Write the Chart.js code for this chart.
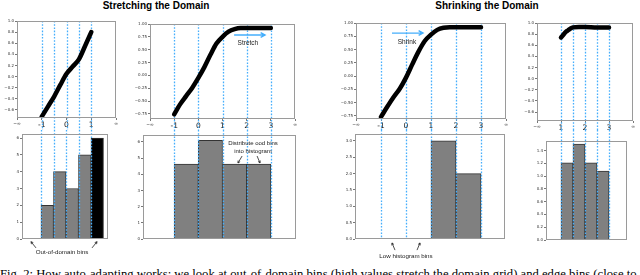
<!DOCTYPE html>
<html>
<head>
<meta charset="utf-8">
<script src="https://cdn.jsdelivr.net/npm/chart.js@4.4.0/dist/chart.umd.min.js"></script>
<style>
body { margin: 0; width: 640px; height: 275px; overflow: hidden; background: #fff; position: relative; }
canvas { position: absolute; }
.title { position: absolute; top: 1px; font: bold 10px "Liberation Sans", Arial, sans-serif; line-height: 10px; white-space: nowrap; transform: translateX(-50%); color: #000; }
.caption { position: absolute; left: 0; top: 268px; font-family: "Liberation Serif", "Times New Roman", serif; font-size: 11.3px; line-height: 12px; white-space: nowrap; color: #000; }
</style>
</head>
<body>
<div class="title" style="left:156px">Stretching the Domain</div>
<div class="title" style="left:487px">Shrinking the Domain</div>
<div class="caption" id="caption">Fig. 2: How auto-adapting works: we look at out-of-domain bins (high values stretch the domain grid) and edge bins (close to</div>
<script>
// --- curves (top row) ---
const origX = [-1, -0.75, -0.5, -0.25, 0, 0.25, 0.5, 0.75, 1];
const origY = [-0.72, -0.54, -0.36, -0.15, 0.05, 0.18, 0.31, 0.55, 0.80];
const stretchX = [-1, -0.75, -0.5, -0.25, 0, 0.25, 0.5, 0.75, 1, 1.25, 1.5, 1.75, 2, 2.5, 3];
const stretchY = [-0.76, -0.56, -0.40, -0.24, -0.05, 0.16, 0.40, 0.62, 0.75, 0.85, 0.90, 0.92, 0.92, 0.92, 0.92];
const wideX = [-1, -0.75, -0.5, -0.25, 0, 0.25, 0.5, 0.75, 1, 1.25, 1.5, 1.75, 2, 2.5, 3];
const wideY = [-0.77, -0.58, -0.40, -0.24, -0.03, 0.22, 0.46, 0.66, 0.78, 0.87, 0.91, 0.92, 0.92, 0.92, 0.92];
const shrinkX = [1, 1.1, 1.2, 1.3, 1.4, 1.5, 1.75, 2, 2.5, 3];
const shrinkY = [0.74, 0.79, 0.84, 0.87, 0.90, 0.92, 0.93, 0.93, 0.92, 0.92];

// --- histograms (bottom row) ---
const origBins = [-1.25, -0.75, -0.25, 0.25, 0.75, 1.25];
const origCounts = [0, 2, 4, 3, 5, 6];
const origOutside = [false, false, false, false, false, true];
const stretchBins = [-1.5, -0.5, 0.5, 1.5, 2.5, 3.5];
const stretchCounts = [0, 4.63, 6.1, 4.63, 4.63, 0];
const wideBins = [-1.5, -0.5, 0.5, 1.5, 2.5, 3.5];
const wideCounts = [0, 0, 0, 3.0, 2.0, 0];
const shrinkBins = [0.75, 1.25, 1.75, 2.25, 2.75, 3.25];
const shrinkCounts = [0, 1.21, 1.50, 1.21, 1.08, 0];

// --- domain grid lines ---
const origGrid = [-1, -0.5, 0, 0.5, 1];
const stretchGrid = [-1, 0, 1, 2, 3];
const wideGrid = [-1, 0, 1, 2, 3];
const shrinkGrid = [1, 1.5, 2, 2.5, 3];

// --- tick labels ---
const origXTicks = [-2, -1, 0, 1, 2];
const origXLabels = ['\u2212\u221e', '-1', '0', '1', '\u221e'];
const wideXTicks = [-2, -1, 0, 1, 2, 3, 4];
const wideXLabels = ['\u2212\u221e', '-1', '0', '1', '2', '3', '\u221e'];
const shrinkXTicks = [0, 1, 2, 3, 4];
const shrinkXLabels = ['\u2212\u221e', '1', '2', '3', '\u221e'];
const tenthTicks = [-0.6, -0.4, -0.2, 0, 0.2, 0.4, 0.6, 0.8, 1.0];
const quarterTicks = [-0.75, -0.5, -0.25, 0, 0.25, 0.5, 0.75, 1.0];
const countTicks = [0, 1, 2, 3, 4, 5, 6];
const halfTicks = [0, 0.5, 1, 1.5, 2, 2.5, 3];
const smallTicks = [0, 0.2, 0.4, 0.6, 0.8, 1.0, 1.2, 1.4];

const BLUE = '#45aefc';
const TICK_FONT = '"DejaVu Sans", sans-serif';

function fmt(d) {
  return v => (v < -1e-9 ? '\u2212' : '') + Math.abs(v).toFixed(d);
}

function place(left, top, width, height) {
  const c = document.createElement('canvas');
  c.width = width; c.height = height;
  c.style.left = left + 'px'; c.style.top = top + 'px';
  document.body.appendChild(c);
  return c;
}

const frame = {
  id: 'frame',
  afterDraw(chart) {
    const { ctx, chartArea: a } = chart;
    ctx.save();
    ctx.strokeStyle = '#9a9a9a';
    ctx.lineWidth = 1;
    ctx.strokeRect(Math.round(a.left) + 0.5, Math.round(a.top) + 0.5,
      Math.round(a.right - a.left) - 1, Math.round(a.bottom - a.top) - 1);
    ctx.restore();
  }
};

function dashes(values, down) {
  const draw = chart => {
    const { ctx, chartArea: a, scales: { x } } = chart;
    ctx.save();
    ctx.strokeStyle = BLUE;
    ctx.lineWidth = 1.3;
    ctx.setLineDash([1.6, 1.6]);
    values.forEach(v => {
      const px = Math.round(x.getPixelForValue(v)) + 0.5;
      ctx.beginPath();
      ctx.moveTo(px, down ? a.top : 0);
      ctx.lineTo(px, down ? chart.height : a.bottom);
      ctx.stroke();
    });
    ctx.restore();
  };
  return down ? { id: 'dashes', beforeDatasetsDraw: draw } : { id: 'dashes', afterDatasetsDraw: draw };
}

function arrow(ctx, x1, y1, x2, y2, color, w, head) {
  const ang = Math.atan2(y2 - y1, x2 - x1);
  ctx.strokeStyle = color;
  ctx.lineWidth = w;
  ctx.beginPath();
  ctx.moveTo(x1, y1); ctx.lineTo(x2, y2);
  ctx.moveTo(x2 - head * Math.cos(ang - 0.5), y2 - head * Math.sin(ang - 0.5));
  ctx.lineTo(x2, y2);
  ctx.lineTo(x2 - head * Math.cos(ang + 0.5), y2 - head * Math.sin(ang + 0.5));
  ctx.stroke();
}

function notes(items) {
  return {
    id: 'notes',
    afterDraw(chart) {
      const { ctx, scales: { x, y } } = chart;
      ctx.save();
      items.forEach(it => {
        if (it.text) {
          ctx.fillStyle = '#222';
          ctx.font = (it.size || 6) + 'px "Liberation Sans", Arial, sans-serif';
          ctx.textAlign = 'center';
          ctx.textBaseline = 'middle';
          ctx.fillText(it.text, x.getPixelForValue(it.x), y.getPixelForValue(it.y));
        } else {
          arrow(ctx, x.getPixelForValue(it.x1), y.getPixelForValue(it.y1),
            x.getPixelForValue(it.x2), y.getPixelForValue(it.y2),
            it.color || '#222', it.w || 0.8, it.head || 2.5);
        }
      });
      ctx.restore();
    }
  };
}

function fixTicks(list) {
  return scale => { scale.ticks = list.map(v => ({ value: v })); };
}

const TOP_BOTTOM = 130;

function curveChart(o) {
  const a = o.area, yW = 16, padR = 6, ct = 12;
  const canvas = place(a.l - yW, ct, a.r + padR - (a.l - yW), TOP_BOTTOM - ct);
  new Chart(canvas, {
    type: 'line',
    data: {
      datasets: [{
        data: o.xs.map((x, i) => ({ x, y: o.ys[i] })),
        borderColor: '#000',
        borderWidth: 4.5,
        pointRadius: 0,
        cubicInterpolationMode: 'monotone',
        borderCapStyle: 'round'
      }]
    },
    options: {
      responsive: false,
      animation: false,
      events: [],
      layout: { autoPadding: false, padding: { left: 0, top: a.t - ct, right: padR, bottom: 0 } },
      plugins: { legend: { display: false }, tooltip: { enabled: false } },
      scales: {
        x: {
          type: 'linear', min: o.xMin, max: o.xMax,
          afterBuildTicks: fixTicks(o.xTicks),
          afterFit: s => { s.height = TOP_BOTTOM - a.b; },
          border: { display: false },
          grid: { drawOnChartArea: false, tickLength: 2, color: '#777' },
          ticks: {
            autoSkip: false, maxRotation: 0, padding: 1, color: '#111',
            callback: (v, i) => o.xLabels[i],
            font: c => ({ family: TICK_FONT, size: (c.index === 0 || c.index === o.xTicks.length - 1) ? 4.5 : 7.5 })
          }
        },
        y: {
          min: o.yMin, max: o.yMax,
          afterBuildTicks: fixTicks(o.yTicks),
          afterFit: s => { s.width = yW; },
          border: { display: false },
          grid: { drawOnChartArea: false, tickLength: 2, color: '#777' },
          ticks: { autoSkip: false, padding: 1, color: '#333', callback: o.yFmt, font: { family: TICK_FONT, size: 4 } }
        }
      }
    },
    plugins: [dashes(o.grid, true), frame, notes(o.notes || [])]
  });
}

function histChart(o) {
  const a = o.area, yW = 10, padR = 4, ct = TOP_BOTTOM, cb = 264;
  const canvas = place(a.l - yW, ct, a.r + padR - (a.l - yW), cb - ct);
  new Chart(canvas, {
    type: 'bar',
    data: {
      datasets: [{
        data: o.xs.map((x, i) => ({ x, y: o.ys[i] })),
        backgroundColor: c => (o.outside && o.outside[c.dataIndex]) ? '#000' : '#808080',
        borderColor: '#333',
        borderWidth: 1,
        barThickness: 'flex',
        categoryPercentage: 1,
        barPercentage: 1
      }]
    },
    options: {
      responsive: false,
      animation: false,
      events: [],
      layout: { autoPadding: false, padding: { left: 0, top: a.t - ct, right: padR, bottom: cb - a.b } },
      plugins: { legend: { display: false }, tooltip: { enabled: false } },
      scales: {
        x: { type: 'linear', min: o.xMin, max: o.xMax, offset: false, display: false },
        y: {
          min: 0, max: o.yMax,
          afterBuildTicks: fixTicks(o.yTicks),
          afterFit: s => { s.width = yW; },
          border: { display: false },
          grid: { drawOnChartArea: false, tickLength: 2, color: '#777' },
          ticks: { autoSkip: false, padding: 1, color: '#333', callback: o.yFmt, font: { family: TICK_FONT, size: 4 } }
        }
      }
    },
    plugins: [dashes(o.grid, false), frame, notes(o.notes || [])]
  });
}

// top row
curveChart({ area: { l: 17, t: 21, r: 116, b: 118 }, xs: origX, ys: origY, xMin: -2, xMax: 2, yMin: -0.745, yMax: 1.0,
  xTicks: origXTicks, xLabels: origXLabels, yTicks: tenthTicks, yFmt: fmt(1), grid: origGrid });
curveChart({ area: { l: 150, t: 24, r: 295, b: 119 }, xs: stretchX, ys: stretchY, xMin: -2, xMax: 4, yMin: -0.85, yMax: 1.0,
  xTicks: wideXTicks, xLabels: wideXLabels, yTicks: quarterTicks, yFmt: fmt(2), grid: stretchGrid,
  notes: [
    { x1: 1.48, y1: 0.785, x2: 2.76, y2: 0.785, color: BLUE, w: 1.4, head: 5 },
    { text: 'Stretch', x: 2.05, y: 0.62, size: 6.5 }
  ] });
curveChart({ area: { l: 356, t: 23, r: 506, b: 119 }, xs: wideX, ys: wideY, xMin: -2, xMax: 4, yMin: -0.81, yMax: 1.0,
  xTicks: wideXTicks, xLabels: wideXLabels, yTicks: quarterTicks, yFmt: fmt(2), grid: wideGrid,
  notes: [
    { x1: -0.56, y1: 0.81, x2: 0.68, y2: 0.81, color: BLUE, w: 1.4, head: 5 },
    { text: 'Shrink', x: 0.04, y: 0.64, size: 6.5 }
  ] });
curveChart({ area: { l: 537, t: 23, r: 633, b: 121 }, xs: shrinkX, ys: shrinkY, xMin: 0, xMax: 4, yMin: -0.76, yMax: 1.0,
  xTicks: shrinkXTicks, xLabels: shrinkXLabels, yTicks: tenthTicks, yFmt: fmt(1), grid: shrinkGrid });

// bottom row
histChart({ area: { l: 22, t: 134, r: 108, b: 239 }, xs: origBins, ys: origCounts, outside: origOutside,
  xMin: -1.76, xMax: 1.68, yMax: 6.24, yTicks: countTicks, yFmt: fmt(0), grid: origGrid,
  notes: [
    { text: 'Out-of-domain bins', x: -0.16, y: -0.77, size: 6.2 },
    { x1: -1.2, y1: -0.53, x2: -1.4, y2: -0.16 },
    { x1: 1.04, y1: -0.53, x2: 1.24, y2: -0.16 }
  ] });
histChart({ area: { l: 143, t: 135, r: 296, b: 239 }, xs: stretchBins, ys: stretchCounts,
  xMin: -2.29, xMax: 4.04, yMax: 6.43, yTicks: countTicks, yFmt: fmt(0), grid: stretchGrid,
  notes: [
    { text: 'Distribute ood bins', x: 2.26, y: 5.94, size: 6 },
    { text: 'into histogram', x: 2.26, y: 5.44, size: 6 },
    { x1: 1.81, y1: 5.13, x2: 1.64, y2: 4.70 },
    { x1: 2.43, y1: 5.13, x2: 2.55, y2: 4.70 }
  ] });
histChart({ area: { l: 355, t: 134, r: 505, b: 239 }, xs: wideBins, ys: wideCounts,
  xMin: -2.04, xMax: 3.96, yMax: 3.21, yTicks: halfTicks, yFmt: fmt(1), grid: wideGrid,
  notes: [
    { text: 'Low histogram bins', x: 0.0, y: -0.52, size: 6.2 },
    { x1: -0.44, y1: -0.34, x2: -0.56, y2: -0.12 },
    { x1: 0.44, y1: -0.34, x2: 0.56, y2: -0.12 }
  ] });
histChart({ area: { l: 546, t: 141, r: 627, b: 240 }, xs: shrinkBins, ys: shrinkCounts,
  xMin: 0.375, xMax: 3.75, yMax: 1.55, yTicks: smallTicks, yFmt: fmt(1), grid: shrinkGrid });

// fit the caption line to the page width
const cap = document.getElementById('caption');
const cw = cap.getBoundingClientRect().width;
cap.style.fontSize = (11.3 * 637 / cw) + 'px';
</script>
</body>
</html>
